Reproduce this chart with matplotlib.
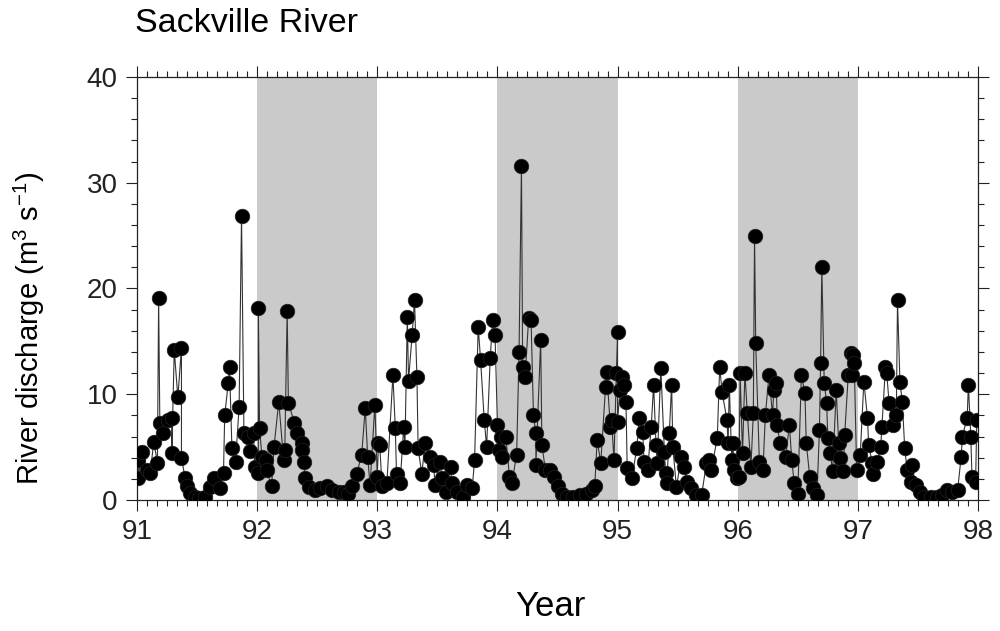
import matplotlib
matplotlib.use("Agg")
import matplotlib.pyplot as plt
from matplotlib.ticker import MultipleLocator

plt.rcParams['font.family'] = ['Liberation Sans', 'DejaVu Sans']
plt.rcParams['mathtext.default'] = 'regular'

title = "Sackville River"
x_label = "Year"
y_label = "River discharge (m$^{3}$ s$^{-1}$)"
x_ticks = [91, 92, 93, 94, 95, 96, 97, 98]
y_ticks = [0, 10, 20, 30, 40]
shaded_years = [(92, 93), (94, 95), (96, 97)]

year = [
    91.01, 91.01, 91.04, 91.08, 91.11, 91.14, 91.17, 91.18, 91.19, 91.22,
    91.26, 91.29, 91.29, 91.31, 91.34, 91.37, 91.37, 91.40, 91.42, 91.44,
    91.48, 91.52, 91.57, 91.61, 91.64, 91.69, 91.72, 91.73, 91.76, 91.77,
    91.79, 91.82, 91.85, 91.87, 91.89, 91.92, 91.94, 91.97, 91.98, 92.01,
    92.01, 92.02, 92.04, 92.07, 92.08, 92.12, 92.14, 92.18, 92.22, 92.23,
    92.25, 92.26, 92.31, 92.33, 92.37, 92.37, 92.39, 92.40, 92.43, 92.48,
    92.52, 92.58, 92.62, 92.68, 92.72, 92.76, 92.79, 92.83, 92.87, 92.90,
    92.92, 92.94, 92.98, 93.00, 93.01, 93.02, 93.04, 93.08, 93.13, 93.15,
    93.16, 93.19, 93.22, 93.23, 93.25, 93.26, 93.29, 93.31, 93.33, 93.34,
    93.37, 93.40, 93.44, 93.47, 93.48, 93.52, 93.54, 93.57, 93.61, 93.62,
    93.66, 93.71, 93.75, 93.79, 93.81, 93.84, 93.86, 93.89, 93.91, 93.94,
    93.96, 93.98, 94.00, 94.01, 94.03, 94.04, 94.07, 94.10, 94.12, 94.16,
    94.18, 94.20, 94.21, 94.23, 94.26, 94.28, 94.30, 94.32, 94.32, 94.36,
    94.37, 94.40, 94.44, 94.47, 94.50, 94.54, 94.58, 94.63, 94.69, 94.74,
    94.79, 94.81, 94.83, 94.86, 94.90, 94.91, 94.94, 94.95, 94.97, 94.99,
    95.00, 95.00, 95.02, 95.04, 95.05, 95.07, 95.08, 95.12, 95.16, 95.18,
    95.21, 95.22, 95.25, 95.28, 95.30, 95.32, 95.33, 95.36, 95.39, 95.40,
    95.41, 95.43, 95.45, 95.46, 95.49, 95.53, 95.55, 95.58, 95.61, 95.65,
    95.70, 95.74, 95.76, 95.78, 95.83, 95.85, 95.87, 95.91, 95.92, 95.93,
    95.95, 95.96, 95.97, 95.99, 96.01, 96.02, 96.04, 96.06, 96.08, 96.11,
    96.13, 96.14, 96.15, 96.18, 96.21, 96.23, 96.26, 96.29, 96.30, 96.32,
    96.33, 96.35, 96.40, 96.43, 96.45, 96.47, 96.50, 96.53, 96.56, 96.57,
    96.60, 96.63, 96.66, 96.68, 96.69, 96.70, 96.72, 96.74, 96.75, 96.77,
    96.79, 96.82, 96.84, 96.85, 96.88, 96.89, 96.92, 96.94, 96.95, 96.96,
    96.97, 96.99, 97.02, 97.05, 97.08, 97.09, 97.12, 97.13, 97.16, 97.19,
    97.20, 97.23, 97.24, 97.26, 97.29, 97.32, 97.33, 97.35, 97.37, 97.39,
    97.41, 97.44, 97.45, 97.48, 97.52, 97.55, 97.61, 97.66, 97.70, 97.74,
    97.78, 97.83, 97.86, 97.87, 97.91, 97.92, 97.94, 97.95, 97.98, 97.99,
]
discharge = [
    3.8, 2.1, 4.5, 2.8, 2.6, 5.5, 3.5, 19.1, 7.3, 6.3,
    7.6, 7.8, 4.4, 14.2, 9.7, 14.4, 4.0, 2.1, 1.3, 0.7,
    0.3, 0.2, 0.3, 1.2, 2.1, 1.1, 2.6, 8.0, 11.1, 12.6,
    4.9, 3.6, 8.8, 26.9, 6.3, 6.0, 4.6, 6.3, 3.1, 2.6,
    18.2, 6.8, 4.1, 3.8, 2.8, 1.3, 5.0, 9.3, 3.8, 4.7,
    17.9, 9.2, 7.3, 6.3, 5.4, 4.7, 3.6, 2.1, 1.2, 0.9,
    1.1, 1.3, 0.9, 0.8, 0.8, 0.6, 1.3, 2.5, 4.3, 8.7,
    4.1, 1.4, 9.0, 2.2, 5.4, 5.2, 1.3, 1.6, 11.8, 6.8,
    2.5, 1.6, 6.9, 5.0, 17.3, 11.3, 15.6, 18.9, 11.6, 4.9,
    2.5, 5.4, 4.1, 3.3, 1.4, 3.6, 2.1, 0.8, 3.1, 1.6,
    0.8, 0.3, 1.4, 1.1, 3.8, 16.4, 13.2, 7.6, 5.0, 13.4,
    17.0, 15.6, 7.1, 4.7, 6.0, 4.1, 6.0, 2.2, 1.6, 4.3,
    14.0, 31.6, 12.6, 11.6, 17.2, 17.0, 8.0, 6.3, 3.3, 15.1,
    5.2, 2.8, 2.8, 2.2, 1.3, 0.6, 0.3, 0.3, 0.5, 0.6,
    0.9, 1.3, 5.7, 3.5, 10.7, 12.1, 6.9, 7.6, 3.8, 12.0,
    15.9, 7.4, 10.4, 11.6, 10.9, 9.3, 3.0, 2.1, 4.9, 7.8,
    6.4, 3.6, 2.8, 6.9, 10.9, 5.2, 3.5, 12.5, 4.5, 2.6,
    1.6, 6.3, 10.9, 5.0, 1.2, 4.1, 3.1, 1.7, 1.1, 0.5,
    0.5, 3.5, 3.8, 2.8, 5.9, 12.6, 10.2, 7.6, 5.4, 10.9,
    3.8, 5.4, 2.8, 2.1, 2.2, 12.0, 4.4, 12.0, 8.2, 3.1,
    8.2, 25.0, 14.8, 3.6, 2.8, 8.0, 11.8, 8.0, 10.4, 11.1,
    7.1, 5.4, 4.1, 7.1, 3.8, 1.6, 0.6, 11.8, 10.1, 5.4,
    2.2, 1.1, 0.5, 6.6, 13.0, 22.0, 11.1, 9.2, 5.9, 4.4,
    2.7, 10.4, 5.4, 4.0, 2.7, 6.1, 11.8, 13.9, 11.8, 13.7,
    13.0, 2.8, 4.3, 11.2, 7.8, 5.2, 3.5, 2.5, 3.6, 5.0,
    6.9, 12.6, 12.0, 9.2, 7.1, 8.0, 18.9, 11.2, 9.3, 4.9,
    2.8, 1.7, 3.3, 1.4, 0.8, 0.3, 0.3, 0.3, 0.5, 0.9,
    0.8, 0.9, 4.1, 6.0, 7.8, 10.9, 6.0, 2.2, 1.7, 7.6,
]

fig = plt.figure(figsize=(10, 6.31), dpi=100)
ax = fig.add_axes([0.137, 0.2076, 0.841, 0.6704])

for a, b in shaded_years:
    ax.axvspan(a, b, color='#cacaca', lw=0, zorder=0)

ax.plot(year, discharge, '-', color='#333333', lw=0.8, zorder=2)
ax.plot(year, discharge, 'o', color='black', ms=10.5, mec='#222222', mew=0.5, zorder=3)

ax.set_xlim(91, 98)
ax.set_ylim(0, 40)
ax.set_xticks(x_ticks)
ax.set_xticklabels([str(t) for t in x_ticks])
ax.set_yticks(y_ticks)
ax.xaxis.set_minor_locator(MultipleLocator(1/12))
ax.yaxis.set_minor_locator(MultipleLocator(2))
ax.tick_params(which='both', direction='out', top=True, right=True,
               labeltop=False, labelright=False, width=0.8, colors='#222222')
ax.tick_params(which='major', length=8, labelsize=20, pad=6)
ax.tick_params(which='minor', length=4)
for s in ax.spines.values():
    s.set_linewidth(0.9)
    s.set_color('#222222')

ax.set_xlabel(x_label, fontsize=25)
ax.xaxis.set_label_coords(0.491, -0.213)
ax.set_ylabel(y_label, fontsize=21)
ax.yaxis.set_label_coords(-0.107, 0.407)
fig.text(0.135, 0.949, title, fontsize=24.5, ha='left', va='baseline')

fig.savefig("out.png", dpi=100)
